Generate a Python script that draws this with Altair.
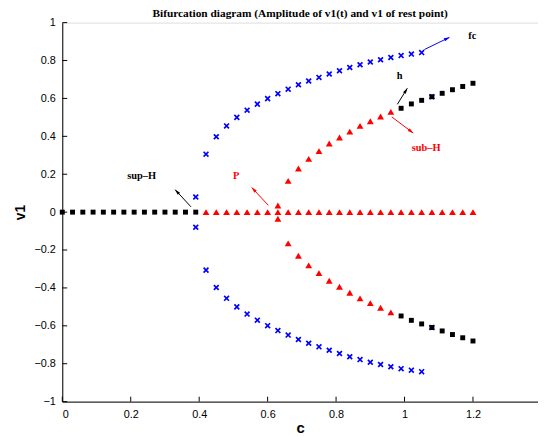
import math
import altair as alt
import pandas as pd

# ---------------- data ----------------
rest_sq_c = [0.00, 0.03, 0.06, 0.09, 0.12, 0.15, 0.18, 0.21, 0.24, 0.27, 0.30, 0.33, 0.36, 0.39]
rest_tri_c = [0.42, 0.45, 0.48, 0.51, 0.54, 0.57, 0.60, 0.63, 0.66, 0.69, 0.72, 0.75, 0.78, 0.81,
              0.84, 0.87, 0.90, 0.93, 0.96, 0.99, 1.02, 1.05, 1.08, 1.11, 1.14, 1.17, 1.20]

blue_c = [0.39, 0.42, 0.45, 0.48, 0.51, 0.54, 0.57, 0.60, 0.63, 0.66, 0.69, 0.72,
          0.75, 0.78, 0.81, 0.84, 0.87, 0.90, 0.93, 0.96, 0.99, 1.02, 1.05, 1.08]
blue_amp = [0.080, 0.306, 0.398, 0.455, 0.500, 0.538, 0.570, 0.599, 0.625, 0.649, 0.672, 0.692,
            0.711, 0.729, 0.746, 0.763, 0.778, 0.792, 0.804, 0.816, 0.826, 0.834, 0.842, 0.609]

red_c = [0.63, 0.66, 0.69, 0.72, 0.75, 0.78, 0.81, 0.84, 0.87, 0.90, 0.93, 0.96]
red_amp = [0.035, 0.165, 0.230, 0.281, 0.322, 0.362, 0.394, 0.425, 0.455, 0.480, 0.505, 0.529]

blk_c = [0.99, 1.02, 1.05, 1.08, 1.11, 1.14, 1.17, 1.20]
blk_amp = [0.548, 0.571, 0.590, 0.609, 0.627, 0.646, 0.663, 0.680]

x_ticks = [0, 0.2, 0.4, 0.6, 0.8, 1.0, 1.2]
y_ticks = [-1, -0.8, -0.6, -0.4, -0.2, 0, 0.2, 0.4, 0.6, 0.8, 1]

# annotations: label, text position, arrow start, arrow end, colour
ann_text = ["fc", "h", "sub–H", "sup–H", "P"]
ann_c = [1.198, 0.986, 1.063, 0.232, 0.508]
ann_v = [0.931, 0.717, 0.340, 0.193, 0.189]
ann_col = ["black", "black", "red", "black", "red"]
arr_c0 = [1.058, 0.979, 0.963, 0.376, 0.602]
arr_v0 = [0.858, 0.569, 0.502, 0.028, 0.036]
arr_c1 = [1.131, 1.008, 1.025, 0.330, 0.554]
arr_v1 = [0.922, 0.653, 0.418, 0.118, 0.129]
arr_col = ["#0000ff", "black", "red", "black", "red"]

# ---------------- layout ----------------
W, H = 482, 384
XMAX = 1.39
PX = W / XMAX
PY = H / 2.0

def sym(cs, amps):
    rows = []
    for c, a in zip(cs, amps):
        rows.append({"c": c, "v": a})
        rows.append({"c": c, "v": -a})
    return pd.DataFrame(rows)

blue_df = sym(blue_c, blue_amp)
red_df = pd.concat([sym(red_c, red_amp), pd.DataFrame({"c": rest_tri_c, "v": [0.0] * len(rest_tri_c)})])
blk_df = pd.concat([pd.DataFrame({"c": rest_sq_c, "v": [0.0] * len(rest_sq_c)}), sym(blk_c, blk_amp)])

xs = alt.Scale(domain=[0, XMAX], nice=False, zero=False)
ys = alt.Scale(domain=[-1, 1], nice=False, zero=False)

x_axis = alt.Axis(values=x_ticks, format="~g", ticks=False, tickSize=0, grid=False,
                  labelPadding=7, titlePadding=1, domainColor="black", labelColor="black",
                  titleColor="black", labelFont="Liberation Sans", labelFontSize=11,
                  titleFont="Liberation Sans", titleFontSize=15, titleFontWeight="bold")
y_axis = alt.Axis(values=y_ticks, format="~g", ticks=False, tickSize=0, grid=False,
                  labelPadding=7, titlePadding=7, domainColor="black", labelColor="black",
                  titleColor="black", labelFont="Liberation Sans", labelFontSize=11,
                  titleFont="Liberation Sans", titleFontSize=14, titleFontWeight="bold")

X = alt.X("c:Q", scale=xs, axis=x_axis, title="c")
Y = alt.Y("v:Q", scale=ys, axis=y_axis, title="v1")

blue = alt.Chart(blue_df).mark_point(shape="M-1,-1L1,1M1,-1L-1,1", filled=False, color="#0000ff",
                                     size=24, strokeWidth=1.7, opacity=1).encode(x=X, y=Y)
black = alt.Chart(blk_df).mark_point(shape="square", filled=True, color="black",
                                     size=25, opacity=1).encode(x=X, y=Y)
red = alt.Chart(red_df).mark_point(shape="triangle-up", filled=True, color="red",
                                   size=48, opacity=1).encode(x=X, y=Y)

# inward tick marks
tick_rows = []
for t in x_ticks:
    tick_rows.append({"c": t, "c2": t, "v": -1.0, "v2": -1.0 + 5 / PY})
for t in y_ticks:
    tick_rows.append({"c": 0.0, "c2": 5 / PX, "v": t, "v2": t})
ticks = alt.Chart(pd.DataFrame(tick_rows)).mark_rule(color="black", strokeWidth=1).encode(
    x=X, x2="c2:Q", y=Y, y2="v2:Q")

# arrows
arr_rows, head_rows = [], []
for c0, v0, c1, v1, col in zip(arr_c0, arr_v0, arr_c1, arr_v1, arr_col):
    dx = (c1 - c0) * PX
    dy = -(v1 - v0) * PY
    L = math.hypot(dx, dy)
    ang = math.degrees(math.atan2(dx, -dy)) % 360
    back = 2.5
    hc = c1 - (dx / L) * back / PX
    hv = v1 + (dy / L) * back / PY
    arr_rows.append({"c": c0, "v": v0, "c2": c1, "v2": v1, "col": col})
    head_rows.append({"c": hc, "v": hv, "ang": ang, "col": col})

arrows = alt.Chart(pd.DataFrame(arr_rows)).mark_rule(strokeWidth=1).encode(
    x=X, x2="c2:Q", y=Y, y2="v2:Q", color=alt.Color("col:N", scale=None))
heads = alt.Chart(pd.DataFrame(head_rows)).mark_point(
    shape="M0,-1L0.55,1L-0.55,1Z", filled=True, size=36, opacity=1, strokeWidth=0).encode(
    x=X, y=Y, angle=alt.Angle("ang:Q", scale=None), color=alt.Color("col:N", scale=None))

texts = alt.Chart(pd.DataFrame({"c": ann_c, "v": ann_v, "t": ann_text, "col": ann_col})).mark_text(
    font="Liberation Serif", fontWeight="bold", fontSize=10.5, align="center", baseline="middle").encode(
    x=X, y=Y, text="t:N", color=alt.Color("col:N", scale=None))

chart = alt.layer(ticks, blue, black, red, arrows, heads, texts).properties(
    width=W, height=H,
    title=alt.TitleParams("Bifurcation diagram (Amplitude of v1(t) and v1 of rest point)",
                          font="Liberation Serif", fontWeight="bold", fontSize=11.5,
                          color="black", anchor="middle", offset=0, dy=3),
    autosize=alt.AutoSizeParams(type="none"),
    padding={"left": 55, "top": 12, "right": 0, "bottom": 32},
).configure_view(stroke=None).configure(background="white")

chart.save("out.html", embed_options={"renderer": "svg", "actions": False})
